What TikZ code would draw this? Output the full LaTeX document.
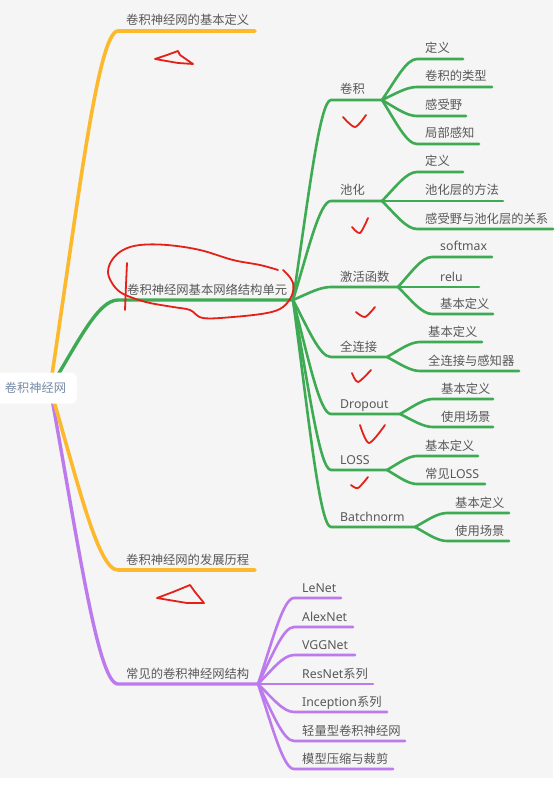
\documentclass[tikz,border=0pt]{standalone}
\usepackage{fontspec}
\setmainfont{Noto Sans CJK SC}
\newfontfamily\lat{Noto Sans}
\usetikzlibrary{calc}
\definecolor{bgc}{RGB}{244,245,244}
\definecolor{orc}{RGB}{253,185,45}
\definecolor{grc}{RGB}{62,170,84}
\definecolor{puc}{RGB}{188,122,236}
\definecolor{txc}{RGB}{88,88,88}
\definecolor{rootc}{RGB}{118,138,165}
\definecolor{inkc}{RGB}{228,32,24}
\newcommand\mmlink[4]{%
  \draw[#1] let \p1=(#2), \p2=(#3) in
    (\p1) .. controls (\x1+0.4*\x2-0.4*\x1, 0.5*\y1+0.5*\y2) and (0.3*\x1+0.7*\x2, \y2) .. (\p2) -- (#4);
}
\newcommand\leaf[8]{%
  \coordinate (#1s) at (#4,#5);
  \coordinate (#1e) at (#6,#5);
  \node[lbl] (#1) at (#7,#5-6) {#8};
  \mmlink{#2}{#3}{#1s}{#1e}
}
\begin{document}
\begin{tikzpicture}[x=1pt,y=-1pt,
  lbl/.style={anchor=base west, inner sep=0pt, text=txc, font=\fontsize{12.3}{15}\selectfont},
  obr/.style={draw=orc, line width=3.6pt, line cap=round},
  gbr/.style={draw=grc, line width=3.4pt, line cap=round},
  gsub/.style={draw=grc, line width=2.6pt, line cap=round},
  psub/.style={draw=puc, line width=2.6pt, line cap=round},
  pbr/.style={draw=puc, line width=3.4pt, line cap=round},
  ink/.style={draw=inkc, line width=1.8pt, line cap=round, line join=round}]
\useasboundingbox (0,0) rectangle (559,786);
\fill[white] (0,0) rectangle (559,786);
\fill[bgc] (0,0) rectangle (553,778);
\coordinate (rootport) at (50,388);
% level 1
\leaf{p}{pbr}{rootport}{118}{684}{258}{126}{常见的卷积神经网结构}
\leaf{o1}{obr}{rootport}{118}{31}{255}{126}{卷积神经网的基本定义}
\leaf{o2}{obr}{rootport}{118}{570}{255}{126}{卷积神经网的发展历程}
\leaf{g}{gbr}{rootport}{118}{300}{293}{127}{卷积神经网基本网络结构单元}
% green level 2
\leaf{a1}{gsub}{ge}{331}{100}{382}{340}{卷积}
\leaf{a2}{gsub}{ge}{331}{201}{382}{340}{池化}
\leaf{a3}{gsub}{ge}{331}{287}{398}{340}{激活函数}
\leaf{a4}{gsub}{ge}{331}{357}{387}{340}{全连接}
\leaf{a5}{gsub}{ge}{331}{414}{400}{340}{\lat Dropout}
\leaf{a6}{gsub}{ge}{331}{470}{387}{340}{\lat LOSS}
\leaf{a7}{gsub}{ge}{331}{527}{415}{340}{\lat Batchnorm}
% green level 3
\leaf{b11}{gsub}{a1e}{417}{59}{463}{425}{定义}
\leaf{b12}{gsub}{a1e}{417}{87}{492}{425}{卷积的类型}
\leaf{b13}{gsub}{a1e}{417}{116}{466}{425}{感受野}
\leaf{b14}{gsub}{a1e}{417}{144}{479}{425}{局部感知}
\leaf{b21}{gsub}{a2e}{417}{172}{463}{425}{定义}
\leaf{b22}{gsub}{a2e}{382}{201}{503}{425}{池化层的方法}
\leaf{b23}{gsub}{a2e}{417}{229}{553}{425}{感受野与池化层的关系}
\leaf{b31}{gsub}{a3e}{432}{257}{492}{440}{\lat softmax}
\leaf{b32}{gsub}{a3e}{398}{287}{479}{440}{\lat relu}
\leaf{b33}{gsub}{a3e}{432}{314}{493}{440}{基本定义}
\leaf{b41}{gsub}{a4e}{420}{342}{482}{428}{基本定义}
\leaf{b42}{gsub}{a4e}{420}{371}{519}{428}{全连接与感知器}
\leaf{b51}{gsub}{a5e}{433}{399}{493}{441}{基本定义}
\leaf{b52}{gsub}{a5e}{433}{427}{493}{441}{使用场景}
\leaf{b61}{gsub}{a6e}{417}{456}{478}{425}{基本定义}
\leaf{b62}{gsub}{a6e}{417}{484}{485}{425}{常见{\lat LOSS}}
\leaf{b71}{gsub}{a7e}{447}{513}{509}{455}{基本定义}
\leaf{b72}{gsub}{a7e}{447}{541}{509}{455}{使用场景}
% purple level 2
\leaf{c1}{psub}{pe}{294}{598}{341}{302}{\lat LeNet}
\leaf{c2}{psub}{pe}{294}{627}{353}{302}{\lat AlexNet}
\leaf{c3}{psub}{pe}{294}{655}{355}{302}{\lat VGGNet}
\leaf{c4}{psub}{pe}{258}{684}{373}{302}{{\lat ResNet}系列}
\leaf{c5}{psub}{pe}{294}{712}{387}{302}{{\lat Inception}系列}
\leaf{c6}{psub}{pe}{294}{741}{405}{302}{轻量型卷积神经网}
\leaf{c7}{psub}{pe}{294}{769}{393}{302}{模型压缩与裁剪}
% root
\node[fill=white, rounded corners=6pt, minimum width=83pt, minimum height=31pt, inner sep=0pt,
  text=rootc, font=\fontsize{12.2}{15}\selectfont] (root) at (35.5,388) {卷积神经网};
% red ink annotations
\draw[ink] plot[smooth, tension=0.6] coordinates {(278,270) (260,265) (233,260) (200,250) (167,245) (140,245) (123,250) (112,260) (108,272) (112,283) (120,292) (133,298) (150,303) (173,307) (190,310) (203,318) (233,317) (267,313) (283,307) (292,295) (293,283) (288,275) (283,270)};
\draw[ink] plot[smooth] coordinates {(127,263) (126,285) (125,310)};
\draw[ink] plot[smooth, tension=0.5] coordinates {(343,117) (355,127) (366,115)};
\draw[ink] plot[smooth, tension=0.5] coordinates {(352,227) (360,233) (368,218)};
\draw[ink] plot[smooth, tension=0.5] coordinates {(356,312) (365,317) (375,307)};
\draw[ink] plot[smooth, tension=0.5] coordinates {(352,373) (358,382) (371,370)};
\draw[ink] plot[smooth, tension=0.5] coordinates {(360,425) (369,443) (385,425)};
\draw[ink] plot[smooth, tension=0.5] coordinates {(351,485) (358,488) (368,477)};
\draw[ink] (155,59) -- (167,55) -- (178,51) -- (180,55) -- (193,64) -- (178,63) -- cycle;
\draw[ink] (157,598) -- (173,592) -- (190,585) -- (195,592) -- (204,603) -- (187,603) -- cycle;
\end{tikzpicture}
\end{document}
